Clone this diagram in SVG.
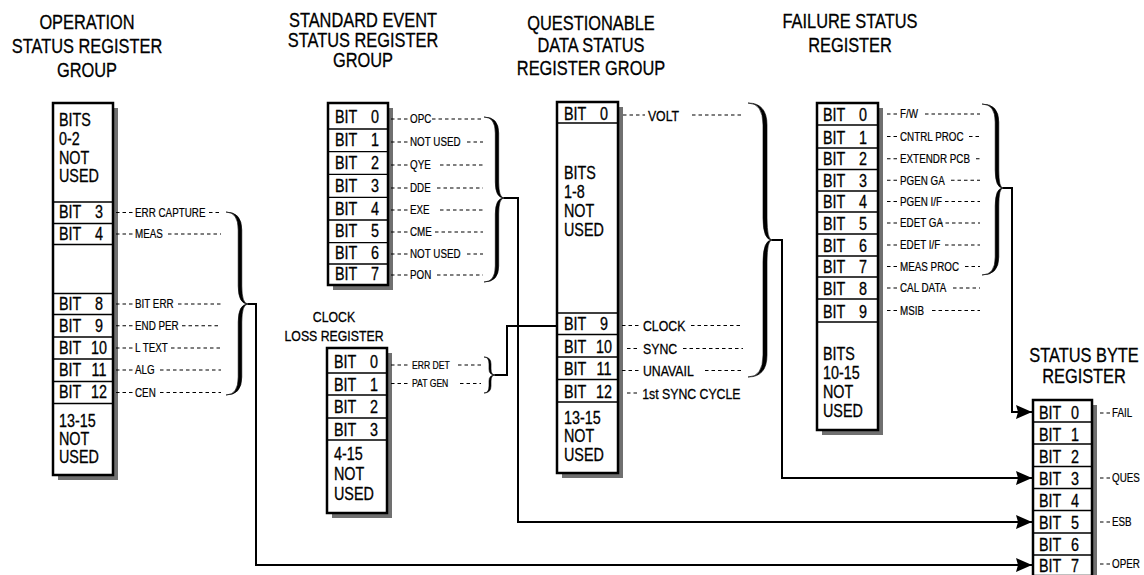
<svg xmlns="http://www.w3.org/2000/svg" width="1144" height="575" viewBox="0 0 1144 575">
<style>
.t{font-family:"Liberation Sans",Arial,sans-serif;fill:#000;stroke:#000;stroke-width:0.3}
.title{font-size:20px;text-anchor:middle}
.sub{font-size:15px;text-anchor:middle}
.b{font-size:17.5px}
.n{font-size:17.5px;text-anchor:middle}
.l{font-size:12px;stroke-width:0.2}
.ls{font-size:10.5px;stroke-width:0.2}
.q{font-size:15px}
.box{fill:#fff;stroke:#000;stroke-width:2.5}
.sh{fill:#707070}
.dv{stroke:#000;stroke-width:1.3}
.ld{stroke:#000;stroke-width:1.1;stroke-dasharray:3.5 3;fill:none}
.br{fill:#000;stroke:#000;stroke-width:0.6;stroke-linejoin:round}
.w{fill:none;stroke:#000;stroke-width:2}
</style>
<defs>
<marker id="ah" markerUnits="userSpaceOnUse" markerWidth="16" markerHeight="14" refX="16" refY="7" orient="auto">
<path d="M0,0 L16,7 L0,14 L2,7 z" fill="#000"/>
</marker>
</defs>

<g id="titles">
<g class="t title" transform="translate(87,0) scale(0.82,1)">
<text x="0" y="29">OPERATION</text>
<text x="0" y="53">STATUS REGISTER</text>
<text x="0" y="77">GROUP</text>
</g>
<g class="t title" transform="translate(363,0) scale(0.82,1)">
<text x="0" y="27.5">STANDARD EVENT</text>
<text x="0" y="47.5">STATUS REGISTER</text>
<text x="0" y="67.5">GROUP</text>
</g>
<g class="t title" transform="translate(591,0) scale(0.82,1)">
<text x="0" y="30">QUESTIONABLE</text>
<text x="0" y="52.5">DATA STATUS</text>
<text x="0" y="75">REGISTER GROUP</text>
</g>
<g class="t title" transform="translate(850,0) scale(0.82,1)">
<text x="0" y="28">FAILURE STATUS</text>
<text x="0" y="52">REGISTER</text>
</g>
<g class="t title" transform="translate(1084,0) scale(0.82,1)">
<text x="0" y="362">STATUS BYTE</text>
<text x="0" y="383">REGISTER</text>
</g>
<g class="t sub" transform="translate(334,0) scale(0.82,1)">
<text x="0" y="322">CLOCK</text>
<text x="0" y="341">LOSS REGISTER</text>
</g>
</g>

<g id="operation-register">
<rect class="sh" x="58" y="108" width="60" height="372"/>
<rect class="box" x="53" y="103" width="60" height="372"/>
<path class="dv" d="M53 202H113M53 223.5H113M53 244.5H113M53 293.5H113M53 314.5H113M53 337H113M53 359H113M53 381.5H113M53 403.5H113"/>
<g class="t b" transform="translate(59,0) scale(0.82,1)">
<text x="0" y="126">BITS</text>
<text x="0" y="145">0-2</text>
<text x="0" y="164">NOT</text>
<text x="0" y="182">USED</text>
<text x="0" y="218.5">BIT</text>
<text x="0" y="240">BIT</text>
<text x="0" y="310">BIT</text>
<text x="0" y="332">BIT</text>
<text x="0" y="354">BIT</text>
<text x="0" y="376.5">BIT</text>
<text x="0" y="398.5">BIT</text>
<text x="0" y="427">13-15</text>
<text x="0" y="445">NOT</text>
<text x="0" y="463">USED</text>
</g>
<g class="t n" transform="translate(99,0) scale(0.82,1)">
<text x="0" y="218.5">3</text>
<text x="0" y="240">4</text>
<text x="0" y="310">8</text>
<text x="0" y="332">9</text>
<text x="0" y="354">10</text>
<text x="0" y="376.5">11</text>
<text x="0" y="398.5">12</text>
</g>
<path class="ld" d="M116 212.5H133M209 212.5H222M116 234H133M168 234H221M116 304H133M178 304H221M116 325.8H133M182 325.8H221M116 348H133M171 348H221M116 370H133M160 370H221M116 392.5H133M160 392.5H221"/>
<g class="t l" transform="translate(135,0) scale(0.82,1)">
<text x="0" y="217">ERR CAPTURE</text>
<text x="0" y="238.5">MEAS</text>
<text x="0" y="308.5">BIT ERR</text>
<text x="0" y="330.3">END PER</text>
<text x="0" y="352.5">L TEXT</text>
<text x="0" y="374.5">ALG</text>
<text x="0" y="397">CEN</text>
</g>
<path class="br" d="M226 212 Q241.8 212 241.8 230 L241.8 286 Q241.8 304 248 304 Q241.8 304 241.8 322 L241.8 377 Q241.8 395 226 395 Q238.2 395 238.2 377 L238.2 322 Q238.2 304 248 304 Q238.2 304 238.2 286 L238.2 230 Q238.2 212 226 212 Z"/>
</g>

<g id="standard-event-register">
<rect class="sh" x="333" y="108" width="60" height="182"/>
<rect class="box" x="328" y="103" width="60" height="182"/>
<path class="dv" d="M328 129H388M328 151.7H388M328 174.3H388M328 197.3H388M328 220H388M328 242.7H388M328 264H388"/>
<g class="t b" transform="translate(335,0) scale(0.82,1)">
<text x="0" y="123">BIT</text>
<text x="0" y="146.5">BIT</text>
<text x="0" y="169">BIT</text>
<text x="0" y="192">BIT</text>
<text x="0" y="215">BIT</text>
<text x="0" y="237.5">BIT</text>
<text x="0" y="259.5">BIT</text>
<text x="0" y="280.5">BIT</text>
</g>
<g class="t n" transform="translate(375,0) scale(0.82,1)">
<text x="0" y="123">0</text>
<text x="0" y="146.5">1</text>
<text x="0" y="169">2</text>
<text x="0" y="192">3</text>
<text x="0" y="215">4</text>
<text x="0" y="237.5">5</text>
<text x="0" y="259.5">6</text>
<text x="0" y="280.5">7</text>
</g>
<path class="ld" d="M391 119H408M432 119H483M391 142H408M467 142H483M391 165H408M440 165H483M391 188H408M437 188H483M391 210H408M440 210H483M391 232H408M435 232H483M391 254H408M467 254H483M391 275H408M437 275H483"/>
<g class="t l" transform="translate(410,0) scale(0.82,1)">
<text x="0" y="123.5">OPC</text>
<text x="0" y="146.5">NOT USED</text>
<text x="0" y="169.5">QYE</text>
<text x="0" y="192.5">DDE</text>
<text x="0" y="214.5">EXE</text>
<text x="0" y="236.5">CME</text>
<text x="0" y="258.5">NOT USED</text>
<text x="0" y="279.5">PON</text>
</g>
<path class="br" d="M484 117 Q498.7 117 498.7 133 L498.7 182 Q498.7 198 504 198 Q498.7 198 498.7 214 L498.7 266 Q498.7 282 484 282 Q495.3 282 495.3 266 L495.3 214 Q495.3 198 504 198 Q495.3 198 495.3 182 L495.3 133 Q495.3 117 484 117 Z"/>
</g>

<g id="clock-loss-register">
<rect class="sh" x="332" y="353" width="60" height="165"/>
<rect class="box" x="327" y="348" width="60" height="165"/>
<path class="dv" d="M327 373H387M327 395H387M327 418H387M327 440H387"/>
<g class="t b" transform="translate(334,0) scale(0.82,1)">
<text x="0" y="368">BIT</text>
<text x="0" y="391">BIT</text>
<text x="0" y="413">BIT</text>
<text x="0" y="436">BIT</text>
<text x="0" y="460">4-15</text>
<text x="0" y="480">NOT</text>
<text x="0" y="500">USED</text>
</g>
<g class="t n" transform="translate(374,0) scale(0.82,1)">
<text x="0" y="368">0</text>
<text x="0" y="391">1</text>
<text x="0" y="413">2</text>
<text x="0" y="436">3</text>
</g>
<path class="ld" d="M391 365H409M458 365H481M391 383.5H409M460 383.5H481"/>
<g class="t ls" transform="translate(412,0) scale(0.82,1)">
<text x="0" y="369">ERR DET</text>
<text x="0" y="387.5">PAT GEN</text>
</g>
<path class="br" d="M484 357 Q491 357 491 364 L491 369 Q491 375 495 375 Q491 375 491 381 L491 386 Q491 393 484 393 Q489 393 489 386 L489 381 Q489 375 495 375 Q489 375 489 369 L489 364 Q489 357 484 357 Z"/>
</g>

<g id="questionable-register">
<rect class="sh" x="562" y="107" width="61" height="371"/>
<rect class="box" x="557" y="102" width="61" height="371"/>
<path class="dv" d="M557 123H618M557 313H618M557 334.5H618M557 357H618M557 379.5H618M557 402H618"/>
<g class="t b" transform="translate(564,0) scale(0.82,1)">
<text x="0" y="120">BIT</text>
<text x="0" y="179">BITS</text>
<text x="0" y="198">1-8</text>
<text x="0" y="217">NOT</text>
<text x="0" y="236">USED</text>
<text x="0" y="330.5">BIT</text>
<text x="0" y="353">BIT</text>
<text x="0" y="375.5">BIT</text>
<text x="0" y="398">BIT</text>
<text x="0" y="424">13-15</text>
<text x="0" y="442.5">NOT</text>
<text x="0" y="461">USED</text>
</g>
<g class="t n" transform="translate(604,0) scale(0.82,1)">
<text x="0" y="120">0</text>
<text x="0" y="330.5">9</text>
<text x="0" y="353">10</text>
<text x="0" y="375.5">11</text>
<text x="0" y="398">12</text>
</g>
<path class="ld" d="M623 115H645M692 115H743M622 325.5H641M691 325.5H743M627 348.5H640M683 348.5H743M622 370.5H640M705 370.5H743M627 393H640"/>
<g class="t q" transform="translate(643,0) scale(0.82,1)">
<text x="6" y="121">VOLT</text>
<text x="0" y="331.5">CLOCK</text>
<text x="0" y="354.5">SYNC</text>
<text x="0" y="376.5">UNAVAIL</text>
<text x="-1" y="399">1st SYNC CYCLE</text>
</g>
<path class="br" d="M748 103 Q767 103 767 125 L767 218 Q767 240 772 240 Q767 240 767 262 L767 355 Q767 377 748 377 Q763 377 763 355 L763 262 Q763 240 772 240 Q763 240 763 218 L763 125 Q763 103 748 103 Z"/>
</g>

<g id="failure-register">
<rect class="sh" x="822" y="108" width="61" height="327"/>
<rect class="box" x="817" y="103" width="61" height="327"/>
<path class="dv" d="M817 125H878M817 148H878M817 169.5H878M817 191H878M817 212H878M817 234H878M817 256H878M817 277H878M817 299H878M817 322H878"/>
<g class="t b" transform="translate(823,0) scale(0.82,1)">
<text x="0" y="121.5">BIT</text>
<text x="0" y="144">BIT</text>
<text x="0" y="165.5">BIT</text>
<text x="0" y="187">BIT</text>
<text x="0" y="208.5">BIT</text>
<text x="0" y="230.5">BIT</text>
<text x="0" y="252.5">BIT</text>
<text x="0" y="273.5">BIT</text>
<text x="0" y="295.5">BIT</text>
<text x="0" y="318">BIT</text>
<text x="0" y="360">BITS</text>
<text x="0" y="379">10-15</text>
<text x="0" y="398">NOT</text>
<text x="0" y="417">USED</text>
</g>
<g class="t n" transform="translate(863,0) scale(0.82,1)">
<text x="0" y="121.5">0</text>
<text x="0" y="144">1</text>
<text x="0" y="165.5">2</text>
<text x="0" y="187">3</text>
<text x="0" y="208.5">4</text>
<text x="0" y="230.5">5</text>
<text x="0" y="252.5">6</text>
<text x="0" y="273.5">7</text>
<text x="0" y="295.5">8</text>
<text x="0" y="318">9</text>
</g>
<path class="ld" d="M887 114H898M925 114H980M887 136.5H898M969 136.5H980M887 158.8H898M976 158.8H981M887 180.3H898M951 180.3H980M887 201.5H898M945 201.5H980M887 223H898M939 223H980M887 245H898M945 245H980M887 266.5H898M965 266.5H980M887 288H898M953 288H980M887 310.5H898M932 310.5H980"/>
<g class="t l" transform="translate(900,0) scale(0.82,1)">
<text x="0" y="118.5">F/W</text>
<text x="0" y="141">CNTRL PROC</text>
<text x="0" y="163.3">EXTENDR PCB</text>
<text x="0" y="184.8">PGEN GA</text>
<text x="0" y="206">PGEN I/F</text>
<text x="0" y="227.5">EDET GA</text>
<text x="0" y="249.5">EDET I/F</text>
<text x="0" y="271">MEAS PROC</text>
<text x="0" y="292.5">CAL DATA</text>
<text x="0" y="315">MSIB</text>
</g>
<path class="br" d="M982 104 Q998.8 104 998.8 122 L998.8 170 Q998.8 188 1003 188 Q998.8 188 998.8 206 L998.8 257 Q998.8 275 982 275 Q995.2 275 995.2 257 L995.2 206 Q995.2 188 1003 188 Q995.2 188 995.2 170 L995.2 122 Q995.2 104 982 104 Z"/>
</g>

<g id="status-byte-register">
<rect class="sh" x="1038" y="405" width="59" height="176"/>
<rect class="box" x="1033" y="400" width="59" height="176"/>
<path class="dv" d="M1033 422H1092M1033 444H1092M1033 466.5H1092M1033 488.5H1092M1033 510.5H1092M1033 533H1092M1033 555H1092"/>
<g class="t b" transform="translate(1039,0) scale(0.82,1)">
<text x="0" y="419">BIT</text>
<text x="0" y="441">BIT</text>
<text x="0" y="463">BIT</text>
<text x="0" y="485">BIT</text>
<text x="0" y="507">BIT</text>
<text x="0" y="529">BIT</text>
<text x="0" y="551">BIT</text>
<text x="0" y="572">BIT</text>
</g>
<g class="t n" transform="translate(1075,0) scale(0.82,1)">
<text x="0" y="419">0</text>
<text x="0" y="441">1</text>
<text x="0" y="463">2</text>
<text x="0" y="485">3</text>
<text x="0" y="507">4</text>
<text x="0" y="529">5</text>
<text x="0" y="551">6</text>
<text x="0" y="572">7</text>
</g>
<path class="ld" d="M1100 413H1110M1100 478H1110M1100 522H1110M1100 564H1110"/>
<g class="t l" transform="translate(1112,0) scale(0.82,1)">
<text x="0" y="417">FAIL</text>
<text x="0" y="482">QUES</text>
<text x="0" y="526">ESB</text>
<text x="0" y="568">OPER</text>
</g>
</g>

<g id="connectors">
<path class="w" d="M248 304H256V565H1032" marker-end="url(#ah)"/>
<path class="w" d="M504 198H518V522H1032" marker-end="url(#ah)"/>
<path class="w" d="M495 375H507V326H557"/>
<path class="w" d="M772 240H782V478H1032" marker-end="url(#ah)"/>
<path class="w" d="M1003 188H1012V412H1032" marker-end="url(#ah)"/>
</g>
</svg>
